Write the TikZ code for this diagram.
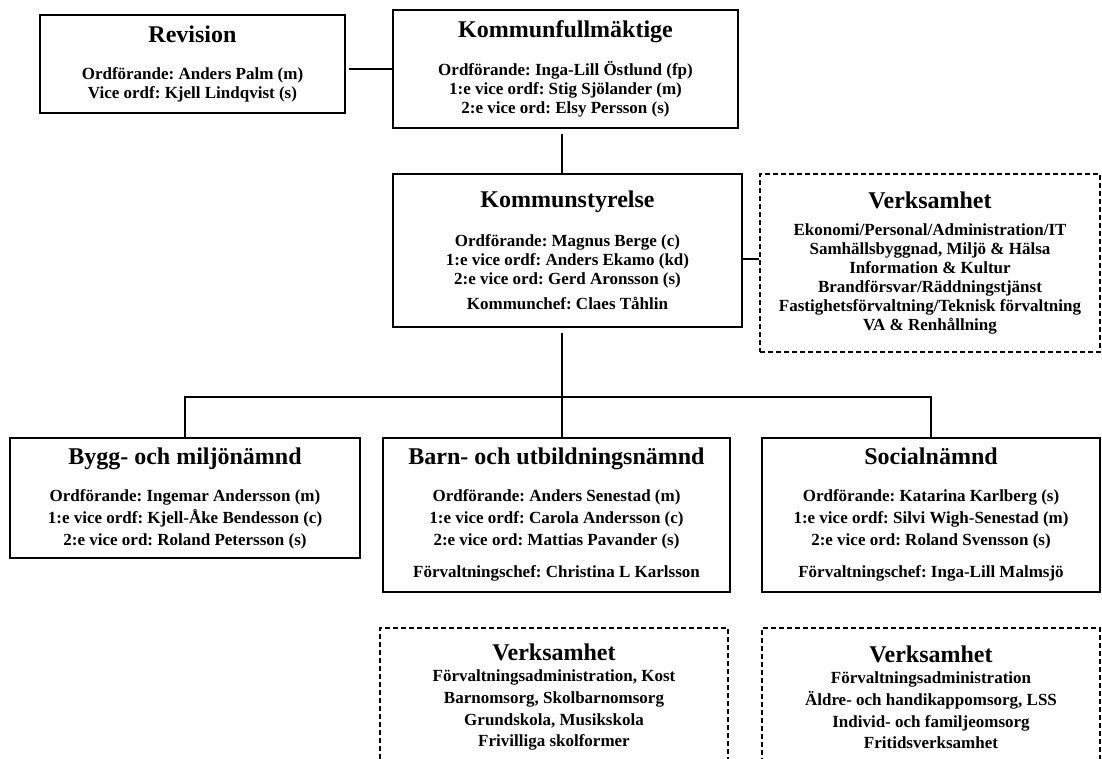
\documentclass[tikz,border=0pt]{standalone}
\usepackage{fontspec}
\setmainfont{Liberation Serif}
\frenchspacing
\newcommand{\rubrik}[1]{{\fontsize{24}{26}\selectfont #1}}
\begin{document}
\begin{tikzpicture}[x=1pt,y=-1pt,
  box/.style={draw,line width=2pt,align=center,inner sep=0pt,font=\fontsize{17}{19}\selectfont\bfseries},
  dbox/.style={box,dash pattern=on 5pt off 3pt},
  link/.style={line width=2pt}]
\clip (0,0) rectangle (1102,758);
\fill[white] (0,0) rectangle (1102,758);

\node[box,minimum width=305pt,minimum height=98pt] (rev) at (192.5,64)
  {\rubrik{Revision}\\[18pt]Ordförande: Anders Palm (m)\\Vice ordf: Kjell Lindqvist (s)};
\node[box,minimum width=345pt,minimum height=118pt] (kf) at (565.5,69)
  {\rubrik{Kommunfullmäktige}\\[18pt]Ordförande: Inga-Lill Östlund (fp)\\1:e vice ordf: Stig Sjölander (m)\\2:e vice ord: Elsy Persson (s)};
\node[box,minimum width=349pt,minimum height=153pt] (ks) at (567.5,250.5)
  {\rubrik{Kommunstyrelse}\\[20pt]Ordförande: Magnus Berge (c)\\1:e vice ordf: Anders Ekamo (kd)\\2:e vice ord: Gerd Aronsson (s)\\[6pt]Kommunchef: Claes Tåhlin};
\node[dbox,minimum width=340pt,minimum height=178pt] (vks) at (930,263)
  {\rubrik{Verksamhet}\\[8pt]Ekonomi/Personal/Administration/IT\\Samhällsbyggnad, Miljö \& Hälsa\\Information \& Kultur\\Brandförsvar/Räddningstjänst\\Fastighetsförvaltning/Teknisk förvaltning\\VA \& Renhållning};

\node[box,minimum width=350pt,minimum height=120pt] (bygg) at (185,498)
  {\rubrik{Bygg- och miljönämnd}\\[18pt]Ordförande: Ingemar Andersson (m)\\[3pt]1:e vice ordf: Kjell-Åke Bendesson (c)\\[3pt]2:e vice ord: Roland Petersson (s)};
\node[box,minimum width=347pt,minimum height=154pt] (barn) at (556.5,515)
  {\rubrik{Barn- och utbildningsnämnd}\\[18pt]Ordförande: Anders Senestad (m)\\[3pt]1:e vice ordf: Carola Andersson (c)\\[3pt]2:e vice ord: Mattias Pavander (s)\\[13pt]Förvaltningschef: Christina L Karlsson};
\node[box,minimum width=338pt,minimum height=154pt] (soc) at (931,515)
  {\rubrik{Socialnämnd}\\[18pt]Ordförande: Katarina Karlberg (s)\\[3pt]1:e vice ordf: Silvi Wigh-Senestad (m)\\[3pt]2:e vice ord: Roland Svensson (s)\\[13pt]Förvaltningschef: Inga-Lill Malmsjö};

\node[dbox,minimum width=348pt,minimum height=138pt] (vbarn) at (554,697)
  {\rubrik{Verksamhet}\\[2pt]Förvaltningsadministration, Kost\\[3pt]Barnomsorg, Skolbarnomsorg\\[3pt]Grundskola, Musikskola\\[2pt]Frivilliga skolformer};
\node[dbox,minimum width=338pt,minimum height=138pt] (vsoc) at (931,697)
  {\rubrik{Verksamhet}\\[2pt]Förvaltningsadministration\\[3pt]Äldre- och handikappomsorg, LSS\\[3pt]Individ- och familjeomsorg\\[2pt]Fritidsverksamhet};

\coordinate (bus) at (562,397);
\coordinate (ksr) at ([yshift=-8pt]ks.east);
\draw[link,shorten <=3pt] (rev.east |- kf.west) -- (kf.west);
\draw[link,shorten <=5pt] (bus |- kf.south) -- (bus |- ks.north);
\draw[link] (ksr) -- (ksr -| vks.west);
\draw[link,shorten <=5pt] (bus |- ks.south) -- (bus |- barn.north);
\draw[link] (bygg.north) |- (bus) -| (soc.north);
\end{tikzpicture}
\end{document}
